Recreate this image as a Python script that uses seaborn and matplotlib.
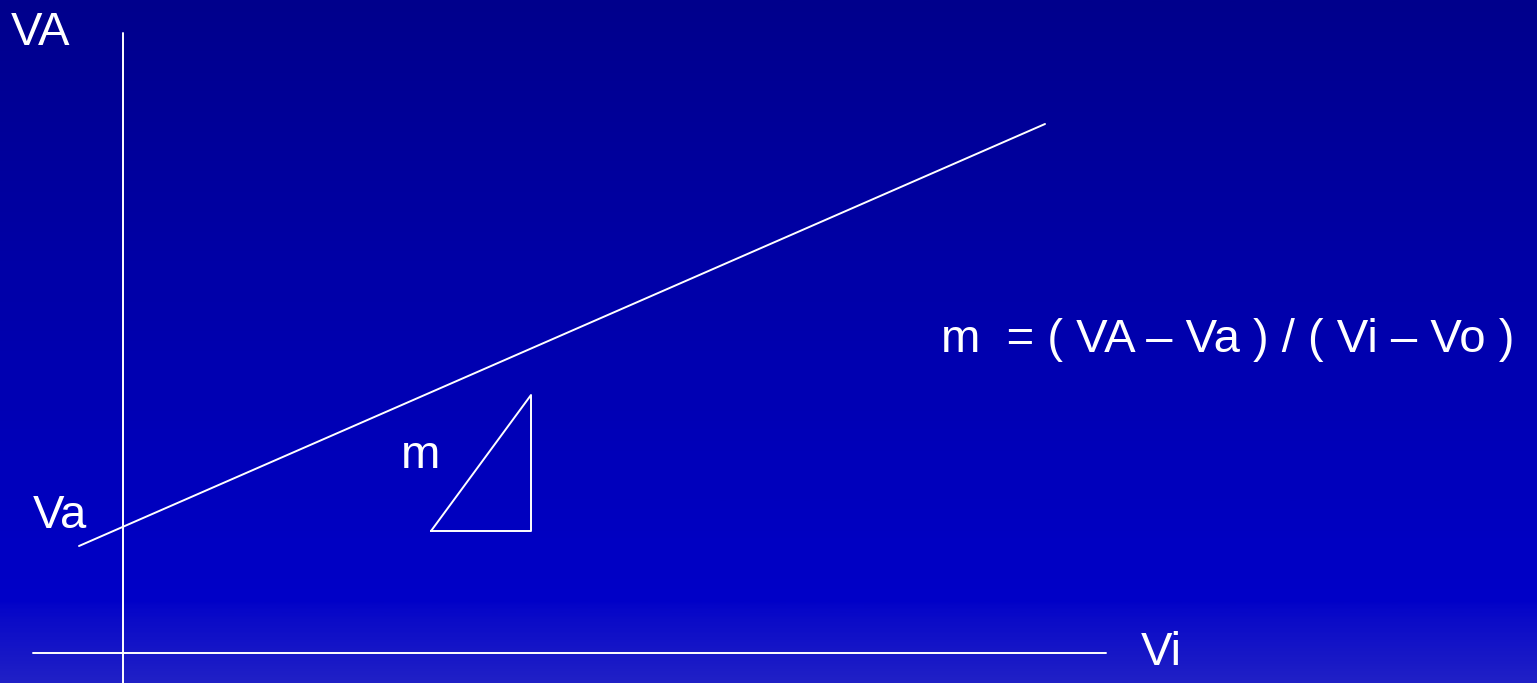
import numpy as np
import pandas as pd
import matplotlib
matplotlib.use("Agg")
import matplotlib.pyplot as plt
import seaborn as sns
from matplotlib.colors import LinearSegmentedColormap

W, H = 1537, 683

# diagram geometry (pixel space, y grows downward)
axis_v_x = [123, 123]
axis_v_y = [33, 683]
axis_h_x = [33, 1106]
axis_h_y = [653, 653]
line_x = [79, 1045]
line_y = [546, 124]
tri_x = [431, 531, 531, 431]
tri_y = [531, 531, 395, 531]

labels = ["VA", "Va", "m", "Vi", "m  = ( VA \u2013 Va ) / ( Vi \u2013 Vo )"]
label_x = [11, 33, 401, 1141, 941]
label_y = [45, 528, 468, 665, 352]

sns.set_theme(style="white")
plt.rcParams["font.family"] = ["Liberation Sans", "DejaVu Sans"]

fig = plt.figure(figsize=(W / 100, H / 100), dpi=100)
ax = fig.add_axes([0, 0, 1, 1])

# background gradient
stops = [(0.0, "#00008c"), (0.88, "#0000c8"), (0.905, "#0a0ac8"), (1.0, "#2020c6")]
cmap = LinearSegmentedColormap.from_list("bg", stops)
grad = np.linspace(0, 1, 400).reshape(-1, 1)
ax.imshow(grad, cmap=cmap, aspect="auto", extent=[0, W, H, 0], zorder=0)

lw = 1.4
for xs, ys in [(axis_v_x, axis_v_y), (axis_h_x, axis_h_y), (line_x, line_y), (tri_x, tri_y)]:
    df = pd.DataFrame({"x": xs, "y": ys})
    sns.lineplot(data=df, x="x", y="y", sort=False, estimator=None,
                 color="white", linewidth=lw, ax=ax, zorder=2)

for t, x, y in zip(labels, label_x, label_y):
    ax.text(x, y, t, color="white", fontsize=34, ha="left", va="baseline", zorder=3)

ax.set_xlim(0, W)
ax.set_ylim(H, 0)
ax.set_axis_off()

fig.savefig("out.png", dpi=100)
